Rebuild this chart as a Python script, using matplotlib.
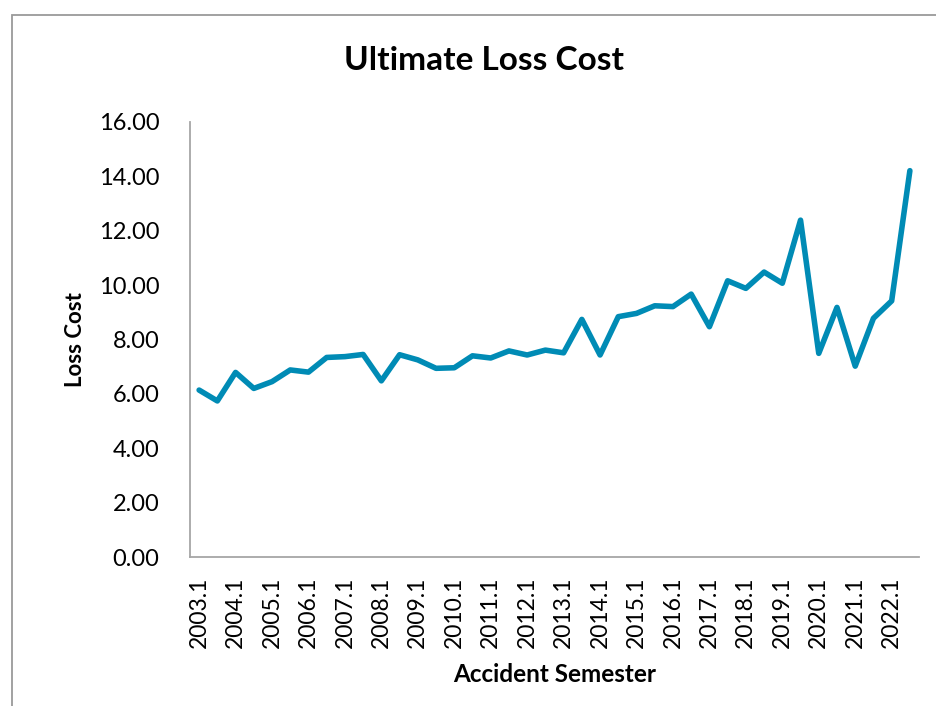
import numpy as np
import matplotlib
matplotlib.use("Agg")
import matplotlib.pyplot as plt
from matplotlib.patches import Rectangle

plt.rcParams['font.family'] = ['Lato', 'DejaVu Sans']

# semesters 2003.1 .. 2022.2
semesters = [f"{y}.{h}" for y in range(2003, 2023) for h in (1, 2)]
loss_cost = [6.14, 5.74, 6.79, 6.20, 6.45, 6.88, 6.80, 7.34, 7.37, 7.45,
             6.48, 7.44, 7.25, 6.94, 6.96, 7.40, 7.32, 7.58, 7.43, 7.61,
             7.51, 8.74, 7.43, 8.84, 8.96, 9.24, 9.21, 9.67, 8.47, 10.16,
             9.88, 10.48, 10.07, 12.39, 7.49, 9.18, 7.02, 8.78, 9.42, 14.21]
y_ticks = [0, 2, 4, 6, 8, 10, 12, 14, 16]

fig = plt.figure(figsize=(9.37, 7.06), dpi=100)
ax = fig.add_axes([190/937, 1-557/706, (919-190)/937, (557-122)/706])

x = np.arange(len(semesters))
ax.plot(x, loss_cost, color="#008bb5", lw=4, solid_joinstyle="round", solid_capstyle="round")

ax.set_xlim(-0.5, len(semesters) - 0.5)
ax.set_ylim(0, 16)
ax.set_yticks(y_ticks)
ax.set_yticklabels([f"{v:.2f}" for v in y_ticks], fontsize=17)
ax.set_xticks(x[::2])
ax.set_xticklabels(semesters[::2], rotation=90, fontsize=16.5)
ax.tick_params(length=0)
ax.tick_params(axis="y", pad=22)
ax.tick_params(axis="x", pad=14)

for s in ("top", "right"):
    ax.spines[s].set_visible(False)
for s in ("left", "bottom"):
    ax.spines[s].set_color("#a6a6a6")
    ax.spines[s].set_linewidth(1.3)

fig.text(76/937, 1-340/706, "Loss Cost", fontsize=16, fontweight="bold",
         ha="center", va="center", rotation=90)
fig.text(555/937, 1-675/706, "Accident Semester", fontsize=17.5, fontweight="bold",
         ha="center", va="center")
fig.text(484/937, 1-60/706, "Ultimate Loss Cost", fontsize=24, fontweight="bold",
         ha="center", va="center")

# chart area border (open to the right and bottom)
fig.patches.append(Rectangle((12/937, -0.5), 1.5, 0.5 + 1 - 15/706, transform=fig.transFigure,
                             fill=False, edgecolor="#9a9a9a", lw=1.3))

fig.savefig("out.png", dpi=100)
